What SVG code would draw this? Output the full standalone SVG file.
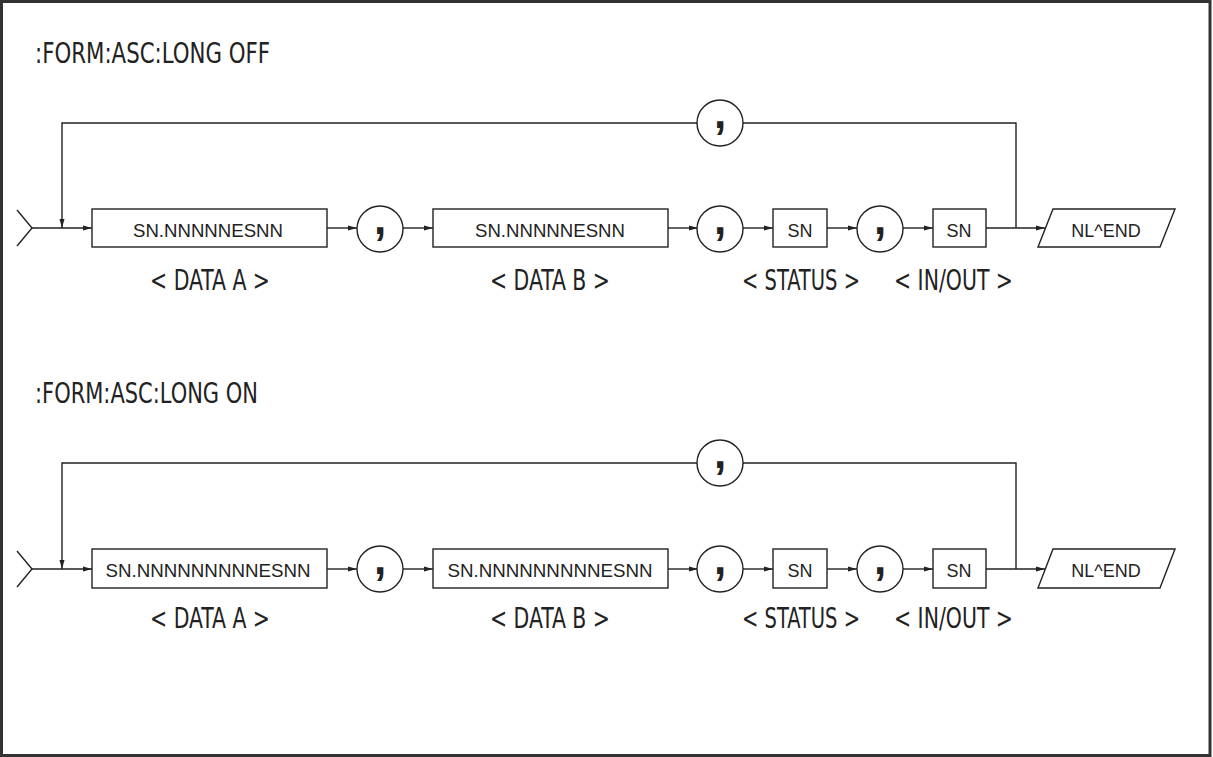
<svg xmlns="http://www.w3.org/2000/svg" width="1213" height="757" viewBox="0 0 1213 757">
<style>
.ln{fill:none;stroke:#222;stroke-width:1.4}
.bx{fill:#fff;stroke:#222;stroke-width:1.4}
.bt{font-family:"Liberation Sans",Arial,sans-serif;font-size:18px;fill:#222;text-anchor:middle}
.lb{font-family:"Liberation Sans Narrow","DejaVu Sans Condensed","Liberation Sans",sans-serif;font-size:29px;fill:#222}
.cm{font-family:"Liberation Sans",Arial,sans-serif;font-weight:bold;font-size:44px;fill:#222;text-anchor:middle}
</style>
<defs>
<marker id="ar" markerUnits="userSpaceOnUse" markerWidth="10" markerHeight="8" refX="9" refY="3" orient="auto">
<path d="M0,0.5 L9,3 L0,5.5 Z" fill="#222"/>
</marker>
</defs>
<rect x="1.5" y="1.5" width="1208.5" height="754" fill="#fff" stroke="#333" stroke-width="3"/>

<text class="lb" x="35" y="63" textLength="235" lengthAdjust="spacingAndGlyphs">:FORM:ASC:LONG OFF</text>
<text class="lb" x="35" y="403" textLength="223" lengthAdjust="spacingAndGlyphs">:FORM:ASC:LONG ON</text>

<!-- Row 1 -->
<g id="row1">
<g id="connectors1">
<polyline class="ln" points="17,210 32,228 17,246"/>
<line class="ln" x1="32" y1="228" x2="92" y2="228" marker-end="url(#ar)"/>
<polyline class="ln" points="697,123 62,123 62,228" marker-end="url(#ar)"/>
<polyline class="ln" points="743,123 1016,123 1016,228"/>
<line class="ln" x1="327" y1="228" x2="357" y2="228" marker-end="url(#ar)"/>
<line class="ln" x1="403" y1="228" x2="433" y2="228" marker-end="url(#ar)"/>
<line class="ln" x1="668" y1="228" x2="698" y2="228" marker-end="url(#ar)"/>
<line class="ln" x1="743" y1="228" x2="773" y2="228" marker-end="url(#ar)"/>
<line class="ln" x1="827" y1="228" x2="857" y2="228" marker-end="url(#ar)"/>
<line class="ln" x1="903" y1="228" x2="933" y2="228" marker-end="url(#ar)"/>
<line class="ln" x1="986" y1="228" x2="1045" y2="228" marker-end="url(#ar)"/>
</g>
<g id="r1-dataA"><rect class="bx" x="92" y="209" width="235" height="38"/><text class="bt" x="208" y="237" textLength="150" lengthAdjust="spacingAndGlyphs">SN.NNNNNESNN</text></g>
<g id="r1-c1"><circle class="bx" cx="380" cy="229" r="23"/><text class="cm" x="380" y="234">,</text></g>
<g id="r1-dataB"><rect class="bx" x="433" y="209" width="235" height="38"/><text class="bt" x="550" y="237" textLength="150" lengthAdjust="spacingAndGlyphs">SN.NNNNNESNN</text></g>
<g id="r1-c2"><circle class="bx" cx="720" cy="229" r="23"/><text class="cm" x="720" y="234">,</text></g>
<g id="r1-status"><rect class="bx" x="773" y="209" width="54" height="38"/><text class="bt" x="800" y="237">SN</text></g>
<g id="r1-c3"><circle class="bx" cx="880" cy="229" r="23"/><text class="cm" x="880" y="234">,</text></g>
<g id="r1-inout"><rect class="bx" x="933" y="209" width="53" height="38"/><text class="bt" x="959" y="237">SN</text></g>
<g id="r1-end"><polygon class="bx" points="1053,209 1175,209 1160,247 1038,247"/><text class="bt" x="1106" y="237">NL^END</text></g>
<g id="r1-loopc"><circle class="bx" cx="720" cy="123" r="23"/><text class="cm" x="720" y="128">,</text></g>
<text class="lb" x="150" y="290" textLength="120" lengthAdjust="spacingAndGlyphs">&lt; DATA A &gt;</text>
<text class="lb" x="490" y="290" textLength="120" lengthAdjust="spacingAndGlyphs">&lt; DATA B &gt;</text>
<text class="lb" x="742" y="290" textLength="118" lengthAdjust="spacingAndGlyphs">&lt; STATUS &gt;</text>
<text class="lb" x="894" y="290" textLength="119" lengthAdjust="spacingAndGlyphs">&lt; IN/OUT &gt;</text>
</g>

<!-- Row 2 -->
<g id="row2">
<g id="connectors2">
<polyline class="ln" points="17,551 32,569 17,587"/>
<line class="ln" x1="32" y1="569" x2="92" y2="569" marker-end="url(#ar)"/>
<polyline class="ln" points="697,463 62,463 62,569" marker-end="url(#ar)"/>
<polyline class="ln" points="743,463 1016,463 1016,569"/>
<line class="ln" x1="327" y1="569" x2="357" y2="569" marker-end="url(#ar)"/>
<line class="ln" x1="403" y1="569" x2="433" y2="569" marker-end="url(#ar)"/>
<line class="ln" x1="668" y1="569" x2="698" y2="569" marker-end="url(#ar)"/>
<line class="ln" x1="743" y1="569" x2="773" y2="569" marker-end="url(#ar)"/>
<line class="ln" x1="827" y1="569" x2="857" y2="569" marker-end="url(#ar)"/>
<line class="ln" x1="903" y1="569" x2="933" y2="569" marker-end="url(#ar)"/>
<line class="ln" x1="986" y1="569" x2="1045" y2="569" marker-end="url(#ar)"/>
</g>
<g id="r2-dataA"><rect class="bx" x="92" y="549" width="235" height="39"/><text class="bt" x="208" y="577" textLength="205" lengthAdjust="spacingAndGlyphs">SN.NNNNNNNNNESNN</text></g>
<g id="r2-c1"><circle class="bx" cx="380" cy="569" r="23"/><text class="cm" x="380" y="574">,</text></g>
<g id="r2-dataB"><rect class="bx" x="433" y="549" width="235" height="39"/><text class="bt" x="550" y="577" textLength="205" lengthAdjust="spacingAndGlyphs">SN.NNNNNNNNNESNN</text></g>
<g id="r2-c2"><circle class="bx" cx="720" cy="569" r="23"/><text class="cm" x="720" y="574">,</text></g>
<g id="r2-status"><rect class="bx" x="773" y="549" width="54" height="39"/><text class="bt" x="800" y="577">SN</text></g>
<g id="r2-c3"><circle class="bx" cx="880" cy="569" r="23"/><text class="cm" x="880" y="574">,</text></g>
<g id="r2-inout"><rect class="bx" x="933" y="549" width="53" height="39"/><text class="bt" x="959" y="577">SN</text></g>
<g id="r2-end"><polygon class="bx" points="1053,549 1175,549 1160,588 1038,588"/><text class="bt" x="1106" y="577">NL^END</text></g>
<g id="r2-loopc"><circle class="bx" cx="720" cy="463" r="23"/><text class="cm" x="720" y="468">,</text></g>
<text class="lb" x="150" y="628" textLength="120" lengthAdjust="spacingAndGlyphs">&lt; DATA A &gt;</text>
<text class="lb" x="490" y="628" textLength="120" lengthAdjust="spacingAndGlyphs">&lt; DATA B &gt;</text>
<text class="lb" x="742" y="628" textLength="118" lengthAdjust="spacingAndGlyphs">&lt; STATUS &gt;</text>
<text class="lb" x="894" y="628" textLength="119" lengthAdjust="spacingAndGlyphs">&lt; IN/OUT &gt;</text>
</g>
</svg>
